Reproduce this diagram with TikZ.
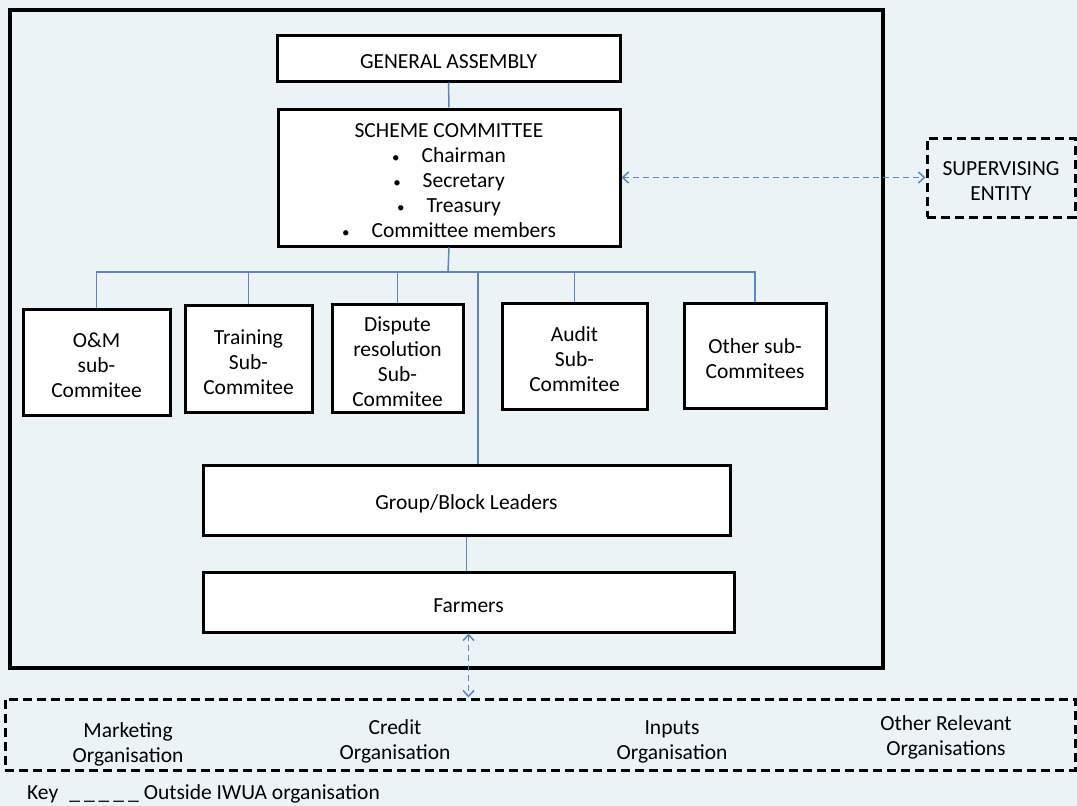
\documentclass[tikz,border=0pt]{standalone}
\usepackage{fontspec}
\setmainfont{Carlito}
\usetikzlibrary{arrows.meta}
\definecolor{bg}{HTML}{ECF3F6}
\definecolor{conn}{HTML}{5B86BE}
\newcommand{\fsz}{\fontsize{21.5}{25}\selectfont}
\newcommand{\bul}{{\fontsize{15}{15}\selectfont\textbullet}\hspace{22pt}}
\tikzset{
  box/.style={draw=black, line width=3pt, fill=white, inner sep=0pt},
  dbox/.style={draw=black, line width=3pt, dash pattern=on 9pt off 5pt, inner sep=0pt},
  ltxt/.style={align=center, font=\fsz, inner sep=0pt},
  lbl/.style={label={[ltxt, yshift=-3.5pt]center:{#1}}},
  link/.style={draw=conn, line width=1.5pt},
  dlink/.style={draw=conn, line width=1.5pt, dash pattern=on 6pt off 4pt,
    {Straight Barb[length=6pt,width=11pt]}-{Straight Barb[length=6pt,width=11pt]}},
}
\begin{document}
\begin{tikzpicture}[x=1pt,y=-1pt]
\useasboundingbox (0,0) rectangle (1077,806);
\fill[bg] (0,0) rectangle (1077,806);
\draw[line width=4.5pt] (10,10) rectangle (883,668);

\node[box, minimum width=343pt, minimum height=46pt, lbl={GENERAL ASSEMBLY}] (ga) at (448.5,58) {};
\node[box, minimum width=342pt, minimum height=137pt,
  lbl={SCHEME COMMITTEE\\ \bul Chairman\\ \bul Secretary\\ \bul Treasury\\ \bul Committee members}] (sc) at (449,177.5) {};

\node[box, minimum width=147pt, minimum height=106pt, lbl={O\&M\\sub-\\Commitee}] (om) at (96.5,362) {};
\node[box, minimum width=127pt, minimum height=107pt, lbl={Training\\Sub-\\Commitee}] (tr) at (248.5,358.5) {};
\node[box, minimum width=131pt, minimum height=108pt, lbl={Dispute\\resolution\\Sub-\\Commitee}] (dr) at (397.5,358) {};
\node[box, minimum width=145pt, minimum height=106pt, lbl={Audit\\Sub-\\Commitee}] (au) at (574.5,356) {};
\node[box, minimum width=142pt, minimum height=105pt, lbl={Other sub-\\Commitees}] (ot) at (755,355.5) {};

\node[box, minimum width=527pt, minimum height=70pt, lbl={Group/Block Leaders}] (gbl) at (466.5,500) {};
\node[box, minimum width=531pt, minimum height=60pt, lbl={Farmers}] (fa) at (468.5,602) {};

\node[dbox, minimum width=148pt, minimum height=79pt, lbl={SUPERVISING\\ENTITY}] (sup) at (1001,177.5) {};
\node[dbox, minimum width=1070pt, minimum height=71pt] (ext) at (540,734.5) {};

\node[ltxt] (mk) at (128,744.5) {Marketing\\Organisation};
\node[ltxt] (cr) at (395,741.5) {Credit\\Organisation};
\node[ltxt] (in) at (672,741.5) {Inputs\\Organisation};
\node[ltxt] (orl) at (946,737.5) {Other Relevant\\Organisations};

\node[anchor=base west, font=\fsz, inner sep=0pt] (key) at (27,799)
  {Key\hspace{11pt}\_\hspace{4pt}\_\hspace{4pt}\_\hspace{4pt}\_\hspace{4pt}\_\hspace{5pt}Outside IWUA organisation};

% connectors
\coordinate (bus) at (448,272);
\coordinate (gbltop) at (478,272);
\draw[link] (ga.south) -- (sc.north);
\draw[link] (sc.south) -- (bus);
\draw[link] (bus) -| (om.north);
\draw[link] (bus) -| (tr.north);
\draw[link] (bus) -| (dr.north);
\draw[link] (bus) -| (au.north);
\draw[link] (bus) -| (ot.north);
\draw[link] (gbltop) -- (gbltop |- gbl.north);
\draw[link] (gbl.south) -- (gbl.south |- fa.north);
\draw[dlink] (fa.south) -- (fa.south |- ext.north);
\draw[dlink] (sc.east) -- (sup.west);
\end{tikzpicture}
\end{document}
